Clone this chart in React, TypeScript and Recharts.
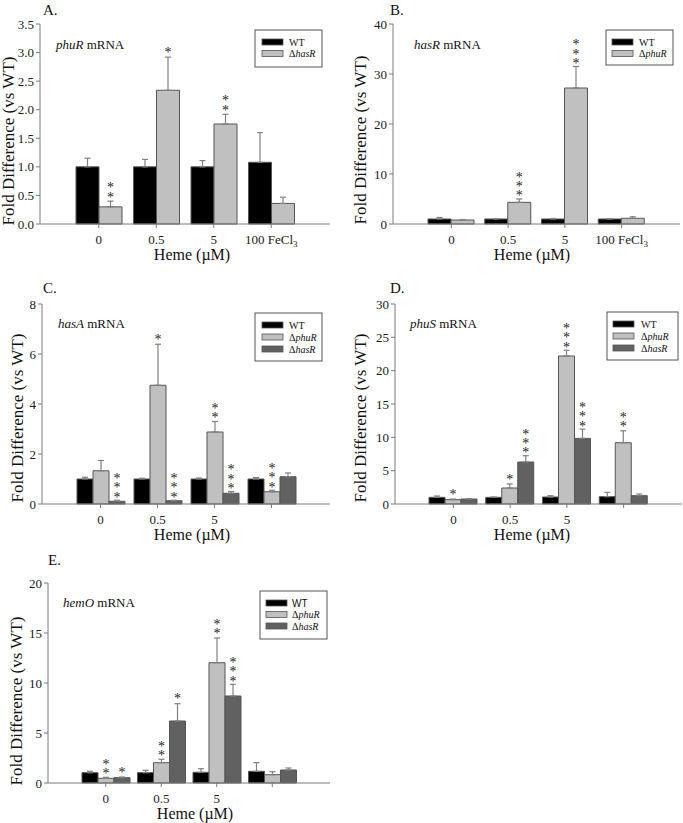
import React from 'react';
import { BarChart, Bar, XAxis, YAxis, ErrorBar, LabelList } from 'recharts';

const SERIF = '"Liberation Serif", "Times New Roman", Times, serif';
const SANS = '"Liberation Sans", Arial, sans-serif';
const AX = '#7a7a7a';
const BAR_STROKE = '#555555';
const ERR = '#808080';
const BLACK = '#000000';
const LIGHT = '#c0c0c0';
const DARK = '#616161';

// Categories (Heme, µM)
const hemeAB = ['0', '0.5', '5', '100 FeCl3'];
const hemeCDE = ['0', '0.5', '5', ''];

// Panel A: phuR mRNA
const aWT = [1.0, 1.0, 1.0, 1.08];
const aWTErr = [0.15, 0.13, 0.11, 0.52];
const aHasR = [0.3, 2.34, 1.75, 0.36];
const aHasRErr = [0.1, 0.58, 0.17, 0.11];
const aHasRStars = [2, 1, 2, 0];

// Panel B: hasR mRNA
const bWT = [1.0, 1.0, 1.0, 1.0];
const bWTErr = [0.3, 0.05, 0.1, 0.05];
const bPhuR = [0.8, 4.33, 27.2, 1.15];
const bPhuRErr = [0.1, 0.67, 4.3, 0.3];
const bPhuRStars = [0, 3, 3, 0];

// Panel C: hasA mRNA
const cWT = [1.0, 1.0, 1.0, 1.0];
const cWTErr = [0.07, 0.03, 0.04, 0.06];
const cPhuR = [1.33, 4.75, 2.88, 0.49];
const cPhuRErr = [0.41, 1.64, 0.42, 0.06];
const cPhuRStars = [0, 1, 2, 3];
const cHasR = [0.11, 0.13, 0.43, 1.09];
const cHasRErr = [0.04, 0.02, 0.07, 0.15];
const cHasRStars = [3, 3, 3, 0];

// Panel D: phuS mRNA
const dWT = [1.0, 1.0, 1.05, 1.1];
const dWTErr = [0.2, 0.05, 0.2, 0.65];
const dPhuR = [0.65, 2.4, 22.2, 9.19];
const dPhuRErr = [0.1, 0.6, 0.87, 1.79];
const dPhuRStars = [1, 1, 3, 2];
const dHasR = [0.75, 6.3, 9.84, 1.25];
const dHasRErr = [0.05, 0.94, 1.39, 0.25];
const dHasRStars = [0, 3, 3, 0];

// Panel E: hemO mRNA
const eWT = [1.03, 1.03, 1.07, 1.17];
const eWTErr = [0.14, 0.24, 0.36, 0.86];
const ePhuR = [0.47, 2.03, 12.03, 0.83];
const ePhuRErr = [0.1, 0.34, 2.47, 0.3];
const ePhuRStars = [2, 2, 2, 0];
const eHasR = [0.53, 6.2, 8.7, 1.3];
const eHasRErr = [0.07, 1.73, 1.17, 0.2];
const eHasRStars = [1, 1, 3, 0];

const noStars = [0, 0, 0, 0];

type Series = {
  key: string;
  label: string; // '' for WT
  color: string;
  values: number[];
  errs: number[];
  stars: number[];
};

type PanelCfg = {
  letter: string;
  gene: string;
  left: number;
  top: number;
  width: number;
  height: number;
  plot: { l: number; r: number; t: number; b: number };
  yMax: number;
  yTicks: number[];
  yDecimals: number;
  barSize: number;
  categories: string[];
  series: Series[];
  letterPos: [number, number];
  genePos: [number, number];
  yLabelPos: [number, number];
  xLabelPos: [number, number];
  legend: { x: number; y: number; w: number; h: number; swX: number; txtX: number; rowDy: number; sansWT?: boolean };
};

const panels: PanelCfg[] = [
  {
    letter: 'A.', gene: 'phuR', left: 0, top: 0, width: 340, height: 270,
    plot: { l: 40, r: 330, t: 24, b: 224 }, yMax: 3.5,
    yTicks: [0, 0.5, 1, 1.5, 2, 2.5, 3, 3.5], yDecimals: 1, barSize: 23, categories: hemeAB,
    series: [
      { key: 'wt', label: '', color: BLACK, values: aWT, errs: aWTErr, stars: noStars },
      { key: 'hasR', label: 'hasR', color: LIGHT, values: aHasR, errs: aHasRErr, stars: aHasRStars },
    ],
    letterPos: [43, 15], genePos: [56, 49], yLabelPos: [14, 141], xLabelPos: [192, 260],
    legend: { x: 255, y: 30, w: 67, h: 37, swX: 262, txtX: 289, rowDy: 11.5 },
  },
  {
    letter: 'B.', gene: 'hasR', left: 340, top: 0, width: 343, height: 270,
    plot: { l: 53, r: 340, t: 24, b: 224 }, yMax: 40,
    yTicks: [0, 10, 20, 30, 40], yDecimals: 0, barSize: 23, categories: hemeAB,
    series: [
      { key: 'wt', label: '', color: BLACK, values: bWT, errs: bWTErr, stars: noStars },
      { key: 'phuR', label: 'phuR', color: LIGHT, values: bPhuR, errs: bPhuRErr, stars: bPhuRStars },
    ],
    letterPos: [390, 15], genePos: [414, 49], yLabelPos: [366, 140], xLabelPos: [532, 260],
    legend: { x: 606, y: 30, w: 67, h: 35, swX: 612, txtX: 639, rowDy: 11.5 },
  },
  {
    letter: 'C.', gene: 'hasA', left: 0, top: 270, width: 340, height: 270,
    plot: { l: 42, r: 330, t: 34, b: 234 }, yMax: 8,
    yTicks: [0, 2, 4, 6, 8], yDecimals: 0, barSize: 16, categories: hemeCDE,
    series: [
      { key: 'wt', label: '', color: BLACK, values: cWT, errs: cWTErr, stars: noStars },
      { key: 'phuR', label: 'phuR', color: LIGHT, values: cPhuR, errs: cPhuRErr, stars: cPhuRStars },
      { key: 'hasR', label: 'hasR', color: DARK, values: cHasR, errs: cHasRErr, stars: cHasRStars },
    ],
    letterPos: [43, 293], genePos: [58, 328], yLabelPos: [23, 418], xLabelPos: [192, 540],
    legend: { x: 255, y: 313, w: 67, h: 48, swX: 262, txtX: 289, rowDy: 12 },
  },
  {
    letter: 'D.', gene: 'phuS', left: 340, top: 270, width: 343, height: 270,
    plot: { l: 55, r: 342, t: 34, b: 234 }, yMax: 30,
    yTicks: [0, 5, 10, 15, 20, 25, 30], yDecimals: 0, barSize: 16, categories: hemeCDE,
    series: [
      { key: 'wt', label: '', color: BLACK, values: dWT, errs: dWTErr, stars: noStars },
      { key: 'phuR', label: 'phuR', color: LIGHT, values: dPhuR, errs: dPhuRErr, stars: dPhuRStars },
      { key: 'hasR', label: 'hasR', color: DARK, values: dHasR, errs: dHasRErr, stars: dHasRStars },
    ],
    letterPos: [390, 293], genePos: [410, 328], yLabelPos: [366, 418], xLabelPos: [532, 540],
    legend: { x: 607, y: 312, w: 71, h: 48, swX: 613, txtX: 641, rowDy: 12 },
  },
  {
    letter: 'E.', gene: 'hemO', left: 0, top: 540, width: 340, height: 283,
    plot: { l: 48, r: 330, t: 43, b: 243 }, yMax: 20,
    yTicks: [0, 5, 10, 15, 20], yDecimals: 0, barSize: 16, categories: hemeCDE,
    series: [
      { key: 'wt', label: '', color: BLACK, values: eWT, errs: eWTErr, stars: noStars },
      { key: 'phuR', label: 'phuR', color: LIGHT, values: ePhuR, errs: ePhuRErr, stars: ePhuRStars },
      { key: 'hasR', label: 'hasR', color: DARK, values: eHasR, errs: eHasRErr, stars: eHasRStars },
    ],
    letterPos: [48, 565], genePos: [63, 607], yLabelPos: [22, 701], xLabelPos: [195, 819],
    legend: { x: 260, y: 591, w: 67, h: 48, swX: 266, txtX: 292, rowDy: 11.5, sansWT: true },
  },
];

const XTick = (props: any) => {
  const { x, y, payload } = props;
  const v = String(payload?.value ?? '');
  const m = v.match(/^(.*FeCl)3$/);
  return (
    <text x={x} y={y} dy="0.71em" textAnchor="middle" fontFamily={SERIF} fontSize={13} fill="#1a1a1a">
      {m ? (
        <>
          {m[1]}
          <tspan fontSize={9} dy={3}>3</tspan>
        </>
      ) : (
        v
      )}
    </text>
  );
};

const STAR_FS = 14;
const STAR_STEP = 8.3;

const makeStars = (s: Series) => (props: any) => {
  const vb = props.viewBox || props;
  const x = Number(vb.x ?? props.x);
  const y = Number(vb.y ?? props.y);
  const width = Number(vb.width ?? props.width);
  const height = Number(vb.height ?? props.height);
  const index = props.index;
  if (index == null) return null;
  const n = s.stars[index];
  if (!n) return null;
  const v = s.values[index];
  const pxPerUnit = v > 0 ? height / v : 0;
  const capY = y - s.errs[index] * pxPerUnit;
  const cx = x + width / 2;
  const startY = capY - 12.5 - STAR_STEP * (n - 1);
  return (
    <text
      x={cx}
      y={startY}
      fontSize={STAR_FS}
      fontFamily={SERIF}
      fill="#1a1a1a"
      opacity={0.99}
      letterSpacing={STAR_STEP - STAR_FS}
      style={{ writingMode: 'vertical-rl', textOrientation: 'upright' } as any}
    >
      {'*'.repeat(n)}
    </text>
  );
};

function Panel({ cfg }: { cfg: PanelCfg }) {
  const { width, height, plot, categories, series, yMax, yTicks, yDecimals, barSize } = cfg;
  const data = categories.map((c, i) => {
    const row: any = { cat: c === '' ? ' ' : c };
    series.forEach((s) => {
      row[s.key] = s.values[i];
      row[s.key + 'Err'] = [0, s.errs[i]];
    });
    return row;
  });
  const margin = { top: plot.t, right: width - plot.r, bottom: height - plot.b - 30, left: 0 };
  return (
    <BarChart width={width} height={height} data={data} margin={margin} barGap={0} barSize={barSize}>
      <XAxis
        dataKey="cat"
        height={30}
        padding={{ left: 30, right: 30 }}
        tick={<XTick />}
        tickSize={4}
        tickMargin={7}
        tickLine={{ stroke: AX }}
        axisLine={{ stroke: AX }}
        interval={0}
      />
      <XAxis xAxisId="top" orientation="top" dataKey="cat" height={0} tick={false} tickLine={false} axisLine={{ stroke: AX }} />
      <YAxis
        width={plot.l}
        domain={[0, yMax]}
        ticks={yTicks}
        interval={0}
        tickSize={4}
        tickMargin={2}
        tickLine={{ stroke: AX }}
        axisLine={{ stroke: AX }}
        tick={{ fontSize: 13, fontFamily: SERIF, fill: '#1a1a1a' }}
        tickFormatter={(v: number) => (yDecimals ? Number(v).toFixed(yDecimals) : String(v))}
      />
      <YAxis yAxisId="right" orientation="right" width={0} domain={[0, yMax]} tick={false} tickLine={false} axisLine={{ stroke: AX }} />
      {series.map((s) => (
        <Bar key={s.key} dataKey={s.key} fill={s.color} stroke={BAR_STROKE} strokeWidth={1} isAnimationActive={false}>
          <ErrorBar dataKey={s.key + 'Err'} direction="y" width={3} stroke={ERR} strokeWidth={1.2} />
          <LabelList dataKey={s.key} content={makeStars(s)} />
        </Bar>
      ))}
    </BarChart>
  );
}

function Overlay() {
  return (
    <svg width={683} height={823} style={{ position: 'absolute', left: 0, top: 0, pointerEvents: 'none' }}>
      {panels.map((p) => {
        const lg = p.legend;
        return (
          <g key={p.letter}>
            <text x={p.letterPos[0]} y={p.letterPos[1]} fontFamily={SERIF} fontSize={15} fill="#111">
              {p.letter}
            </text>
            <text x={p.genePos[0]} y={p.genePos[1]} fontFamily={SERIF} fontSize={13} fill="#111">
              <tspan fontStyle="italic">{p.gene}</tspan> mRNA
            </text>
            <text
              transform={`translate(${p.yLabelPos[0]},${p.yLabelPos[1]}) rotate(-90)`}
              textAnchor="middle"
              fontFamily={SERIF}
              fontSize={17}
              fill="#111"
            >
              Fold Difference (vs WT)
            </text>
            <text x={p.xLabelPos[0]} y={p.xLabelPos[1]} textAnchor="middle" fontFamily={SERIF} fontSize={16} fill="#111">
              Heme (µM)
            </text>
            <rect x={lg.x} y={lg.y} width={lg.w} height={lg.h} fill="#ffffff" stroke="#555" strokeWidth={1} />
            {p.series.map((s, i) => {
              const cy = lg.y + 12 + i * lg.rowDy;
              return (
                <g key={s.key}>
                  <rect x={lg.swX} y={cy - 3} width={21} height={6} fill={s.color} stroke={BAR_STROKE} strokeWidth={0.8} />
                  <text
                    x={lg.txtX}
                    y={cy + 3.5}
                    fontFamily={s.label === '' && lg.sansWT ? SANS : SERIF}
                    fontSize={10}
                    fill="#111"
                  >
                    {s.label === '' ? 'WT' : (
                      <>
                        Δ<tspan fontStyle="italic">{s.label}</tspan>
                      </>
                    )}
                  </text>
                </g>
              );
            })}
          </g>
        );
      })}
    </svg>
  );
}

export default function App() {
  return (
    <div style={{ position: 'absolute', left: 0, top: 0, width: 683, height: 823, background: '#fff', overflow: 'hidden' }}>
      {panels.map((p) => (
        <div key={p.letter} style={{ position: 'absolute', left: p.left, top: p.top, width: p.width, height: p.height }}>
          <Panel cfg={p} />
        </div>
      ))}
      <Overlay />
    </div>
  );
}
